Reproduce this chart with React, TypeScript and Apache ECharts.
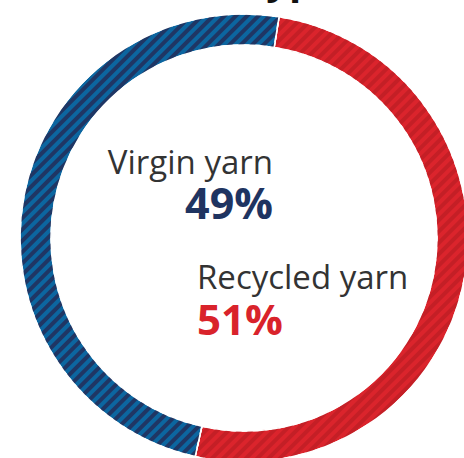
import React, { useEffect, useRef } from "react";
import * as echarts from "echarts";

const categories = ["Recycled yarn", "Virgin yarn"];
const shares = [51, 49];
const titleText = "Yarn type";

const COLORS = ["#db242c", "#0c66a0"];
const STRIPES = ["#c41f26", "#1f3664"];
const PCT_COLORS = ["#d9232b", "#1f3461"];

export default function App() {
  const ref = useRef<HTMLDivElement>(null);
  useEffect(() => {
    if (!ref.current) return;
    const chart = echarts.init(ref.current, undefined, { renderer: "svg" });
    const data = categories.map((name, i) => ({
      name,
      value: shares[i],
      itemStyle: {
        color: COLORS[i],
        decal: {
          symbol: "rect",
          symbolSize: 1,
          dashArrayX: [1, 0],
          dashArrayY: [4, 4],
          rotation: -Math.PI / 4,
          color: STRIPES[i],
        },
      },
    }));
    const labelPos = [
      { x: 197, y: 276, align: "left", pctY: 318, pctSize: 42 },
      { x: 273, y: 161, align: "right", pctY: 202, pctSize: 43 },
    ];
    const graphics: any[] = [
      {
        type: "text",
        x: 338,
        y: -22,
        style: {
          text: titleText,
          font: "bold 40px 'Open Sans'",
          fill: "#111",
          align: "right",
          verticalAlign: "middle",
        },
      },
    ];
    categories.forEach((name, i) => {
      const p = labelPos[i];
      graphics.push({
        type: "text",
        x: p.x,
        y: p.y,
        style: {
          text: name,
          font: "33px 'Open Sans'",
          lineHeight: 26,
          fill: "#333333",
          align: p.align,
          verticalAlign: "middle",
        },
      });
      graphics.push({
        type: "text",
        x: p.x,
        y: p.pctY,
        style: {
          text: shares[i] + "%",
          font: "bold " + p.pctSize + "px 'Open Sans'",
          lineHeight: 32,
          fill: PCT_COLORS[i],
          align: p.align,
          verticalAlign: "middle",
        },
      });
    });
    chart.setOption({
      animation: false,
      graphic: graphics,
      series: [
        {
          type: "pie",
          center: [244, 238],
          radius: [193, 224],
          startAngle: 81,
          clockwise: true,
          silent: true,
          label: { show: false },
          labelLine: { show: false },
          itemStyle: { borderColor: "#ffffff", borderWidth: 1.5 },
          data,
        },
      ],
    });
    return () => chart.dispose();
  }, []);
  return (
    <div
      ref={ref}
      style={{ position: "fixed", left: 0, top: 0, width: 464, height: 458, background: "#fff" }}
    />
  );
}
